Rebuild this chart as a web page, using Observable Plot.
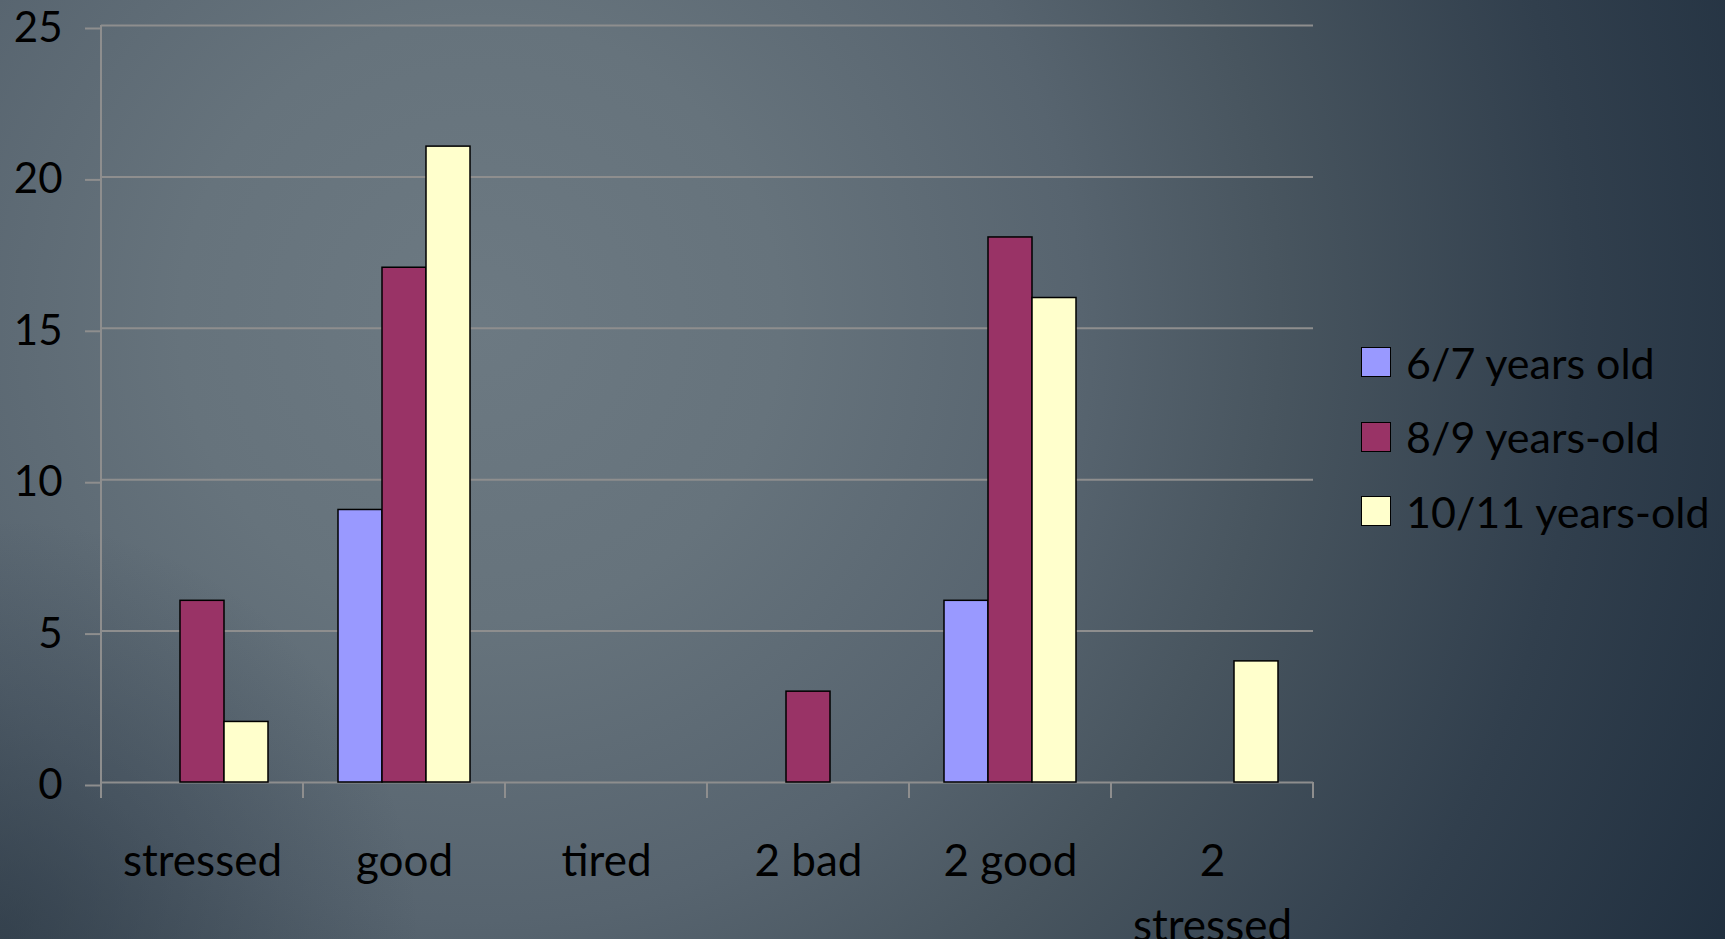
<!DOCTYPE html>
<html>
<head>
<meta charset="utf-8">
<script src="https://cdn.jsdelivr.net/npm/d3@7"></script>
<script src="https://cdn.jsdelivr.net/npm/@observablehq/plot@0.6"></script>
<style>
  html, body { margin: 0; padding: 0; width: 1725px; height: 939px; overflow: hidden; }
  body {
    background:
      radial-gradient(circle at 0px 939px, rgba(35,48,62,0.55) 0px, rgba(35,48,62,0) 420px),
      radial-gradient(circle at 480px 320px, #6c7982 0px, #66737c 300px, #57646f 600px, #48555f 800px, #313f4d 1100px, #1f2e3e 1420px);
    font-family: Lato, "Open Sans", sans-serif;
  }
  #wrap { position: relative; width: 1725px; height: 939px; }
  #legend { position: absolute; left: 1361px; top: 325px; }
  .item { display: flex; align-items: center; height: 74.5px; font-size: 43px; color: #000; white-space: nowrap; }
  .sw { width: 28px; height: 28px; border: 1.5px solid #000; margin-right: 15px; flex: none; }
</style>
</head>
<body>
<div id="wrap"></div>
<script>
const categories = ["stressed", "good", "tired", "2 bad", "2 good", "2 stressed"];
const series = ["6/7 years old", "8/9 years-old", "10/11 years-old"];
const values67 = [0, 9, 0, 0, 6, 0];
const values89 = [6, 17, 0, 3, 18, 0];
const values1011 = [2, 21, 0, 0, 16, 4];
const yTicks = [0, 5, 10, 15, 20, 25];
const colors = ["#9999ff", "#993366", "#ffffcc"];

const rows = [];
[values67, values89, values1011].forEach((vals, si) =>
  vals.forEach((v, ci) => rows.push({category: categories[ci], series: series[si], value: v}))
);

const gridColor = "#8e8e8e";

const chart = Plot.plot({
  width: 1725,
  height: 939,
  marginTop: 25,
  marginBottom: 157,
  marginLeft: 100,
  marginRight: 411,
  style: {background: "transparent", color: "black", fontFamily: "Lato, 'Open Sans', sans-serif", overflow: "visible"},
  fx: {domain: categories, paddingInner: 0, paddingOuter: 0, axis: null, label: null},
  x: {domain: series, paddingInner: 0, paddingOuter: 0.75, axis: null},
  y: {domain: [0, 25], axis: null},
  color: {domain: series, range: colors},
  marks: [
    Plot.gridY(yTicks, {stroke: gridColor, strokeOpacity: 1, strokeWidth: 2}),
    Plot.barY(rows.filter(d => d.value > 0), {
      fx: "category", x: "series", y: "value", fill: "series",
      stroke: "black", strokeWidth: 1.5
    }),
    Plot.axisY(yTicks, {
      tickSize: 16, tickPadding: 23, stroke: gridColor, strokeWidth: 2,
      fill: "black", fontSize: 42, dy: 3, tickFormat: d => String(d), label: null
    }),
    Plot.text(categories, {
      fx: d => d, text: d => d, frameAnchor: "bottom", lineAnchor: "top",
      dy: 47, lineWidth: 4.2, lineHeight: 1.48, fontSize: 44, fill: "black"
    })
  ]
});

// y-axis line and category boundary ticks, positioned through Plot's own scales
const fx = chart.scale("fx");
const y = chart.scale("y");
const svg = d3.select(chart);
const y0 = y.apply(0);
const yTop = y.apply(d3.max(yTicks));
const bounds = categories.map(c => fx.apply(c));
bounds.push(fx.apply(categories[categories.length - 1]) + fx.bandwidth);
const g = svg.append("g").attr("stroke", gridColor).attr("stroke-width", 2);
g.append("line").attr("x1", bounds[0]).attr("x2", bounds[0]).attr("y1", yTop).attr("y2", y0);
bounds.forEach(b => {
  g.append("line").attr("x1", b).attr("x2", b).attr("y1", y0).attr("y2", y0 + 16);
});

const wrap = document.getElementById("wrap");
wrap.appendChild(chart);

const legend = document.createElement("div");
legend.id = "legend";
series.forEach((s, i) => {
  const item = document.createElement("div");
  item.className = "item";
  const sw = document.createElement("span");
  sw.className = "sw";
  sw.style.background = colors[i];
  const label = document.createElement("span");
  label.textContent = s;
  item.appendChild(sw);
  item.appendChild(label);
  legend.appendChild(item);
});
wrap.appendChild(legend);
</script>
</body>
</html>
